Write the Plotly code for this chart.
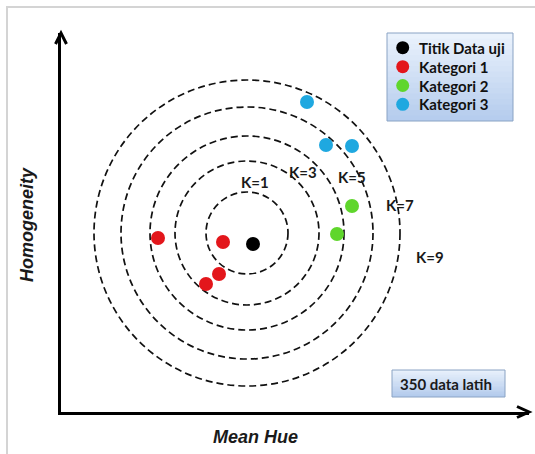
import plotly.graph_objects as go

# ---- data (chart coordinates: Mean Hue, Homogeneity) ----
test_x = [192]
test_y = [168]
kat1_x = [97, 162, 158, 145]
kat1_y = [174, 170, 138, 128]
kat2_x = [291, 276]
kat2_y = [206, 178]
kat3_x = [246, 265, 291]
kat3_y = [310, 267, 266]

circle_center = (186, 179)
circle_radii = [41, 72, 97, 126, 153]
k_labels = ["K=1", "K=3", "K=5", "K=7", "K=9"]
k_label_x = [194, 242, 291, 339, 369]
k_label_y = [230, 240, 235, 207, 155]

series_names = ["Titik Data uji", "Kategori 1", "Kategori 2", "Kategori 3"]
series_colors = ["#000000", "#e3161b", "#5fd62c", "#1fa8e0"]
training_note = "350 data latih"

# ---- layout geometry (pixels) ----
W, H = 535, 454
L, T, R, B = 61, 33, 6, 42
PW, PH = W - L - R, H - T - B


def px(xp):
    return (xp - L) / PW


def py(yp):
    return (H - B - yp) / PH


fig = go.Figure()
xs = [test_x, kat1_x, kat2_x, kat3_x]
ys = [test_y, kat1_y, kat2_y, kat3_y]
for name, color, x, y in zip(series_names, series_colors, xs, ys):
    fig.add_trace(go.Scatter(x=x, y=y, mode="markers", name=name,
                             marker=dict(size=14, color=color),
                             hoverinfo="skip", showlegend=False))

shapes = []
# outer frame
shapes.append(dict(type="path", xref="paper", yref="paper",
                   path=f"M {px(7)} {py(460)} L {px(7)} {py(7)} L {px(540)} {py(7)}",
                   line=dict(color="#d4d4d4", width=2), layer="below"))
# dashed circles
cx, cy = circle_center
for r in circle_radii:
    shapes.append(dict(type="circle", xref="x", yref="y",
                       x0=cx - r, x1=cx + r, y0=cy - r, y1=cy + r,
                       line=dict(color="#111111", width=1.7, dash="7px,4px"),
                       layer="below"))
# arrowheads
shapes.append(dict(type="path", xref="paper", yref="paper",
                   path=f"M {px(55.5)} {py(44)} L {px(61)} {py(33)} L {px(66.5)} {py(44)}",
                   line=dict(color="#000", width=3)))
shapes.append(dict(type="path", xref="paper", yref="paper",
                   path=f"M {px(517)} {py(406.5)} L {px(529)} {py(412)} L {px(517)} {py(417.5)}",
                   line=dict(color="#000", width=3)))


def gradient_box(x0, y0, x1, y1, top, bottom, border, n=16):
    def hx(c):
        return [int(c[i:i + 2], 16) for i in (1, 3, 5)]
    a, b = hx(top), hx(bottom)
    h = (y1 - y0) / n
    for i in range(n):
        t = i / (n - 1)
        c = "#%02x%02x%02x" % tuple(int(a[k] + (b[k] - a[k]) * t) for k in range(3))
        shapes.append(dict(type="rect", xref="paper", yref="paper",
                           x0=px(x0), x1=px(x1), y0=py(y0 + i * h),
                           y1=py(min(y1, y0 + (i + 1) * h + 0.6)),
                           fillcolor=c, line=dict(width=0)))
    shapes.append(dict(type="rect", xref="paper", yref="paper",
                       x0=px(x0), x1=px(x1), y0=py(y0), y1=py(y1),
                       line=dict(color=border, width=1)))


gradient_box(387, 33, 513, 121, "#eaf2fc", "#b6cdee", "#8aa3c4")
gradient_box(392, 370, 505, 397, "#e8f0fb", "#b3cbed", "#8aa3c4")

annotations = []
# manual legend
leg_y = [47.7, 66.7, 85.5, 104.3]
for name, color, yy in zip(series_names, series_colors, leg_y):
    shapes.append(dict(type="circle", xref="paper", yref="paper",
                       x0=px(396.2), x1=px(409.2), y0=py(yy - 6.5), y1=py(yy + 6.5),
                       fillcolor=color, line=dict(width=0)))
    annotations.append(dict(x=px(416.5), y=py(yy), xref="paper", yref="paper",
                            xanchor="left", yanchor="middle", text=name, showarrow=False,
                            font=dict(family="Lato", size=15, color="#111", weight="bold")))

for lab, x, y in zip(k_labels, k_label_x, k_label_y):
    annotations.append(dict(x=x, y=y, xref="x", yref="y", text=lab, showarrow=False,
                            xanchor="center", yanchor="middle",
                            font=dict(family="Lato", size=15, color="#1a1a1a", weight="bold")))
annotations.append(dict(x=px(446), y=py(383.5), xref="paper", yref="paper",
                        xanchor="center", yanchor="middle",
                        text=training_note, showarrow=False,
                        font=dict(family="Lato", size=15, color="#1a1a1a", weight="bold")))
annotations.append(dict(x=px(255), y=py(437), xref="paper", yref="paper",
                        xanchor="center", yanchor="middle",
                        text="Mean Hue", showarrow=False,
                        font=dict(family="Liberation Sans", size=18, color="#1a1a1a",
                                  weight="bold", style="italic")))
annotations.append(dict(x=px(27), y=py(225), xref="paper", yref="paper",
                        xanchor="center", yanchor="middle",
                        text="Homogeneity", showarrow=False, textangle=-90,
                        font=dict(family="Liberation Sans", size=18, color="#1a1a1a",
                                  weight="bold", style="italic")))

fig.update_layout(
    width=W, height=H,
    margin=dict(l=L, r=R, t=T, b=B),
    paper_bgcolor="white", plot_bgcolor="white",
    xaxis=dict(range=[0, PW], showgrid=False, zeroline=False, showticklabels=False,
               ticks="", showline=True, linecolor="#000", linewidth=3, fixedrange=True),
    yaxis=dict(range=[0, PH], showgrid=False, zeroline=False, showticklabels=False,
               ticks="", showline=True, linecolor="#000", linewidth=3, fixedrange=True),
    showlegend=False,
    shapes=shapes,
    annotations=annotations,
)

fig.write_html("out.html", config={"displayModeBar": False},
               post_script="document.body.style.margin='0';document.body.style.overflow='hidden';")
